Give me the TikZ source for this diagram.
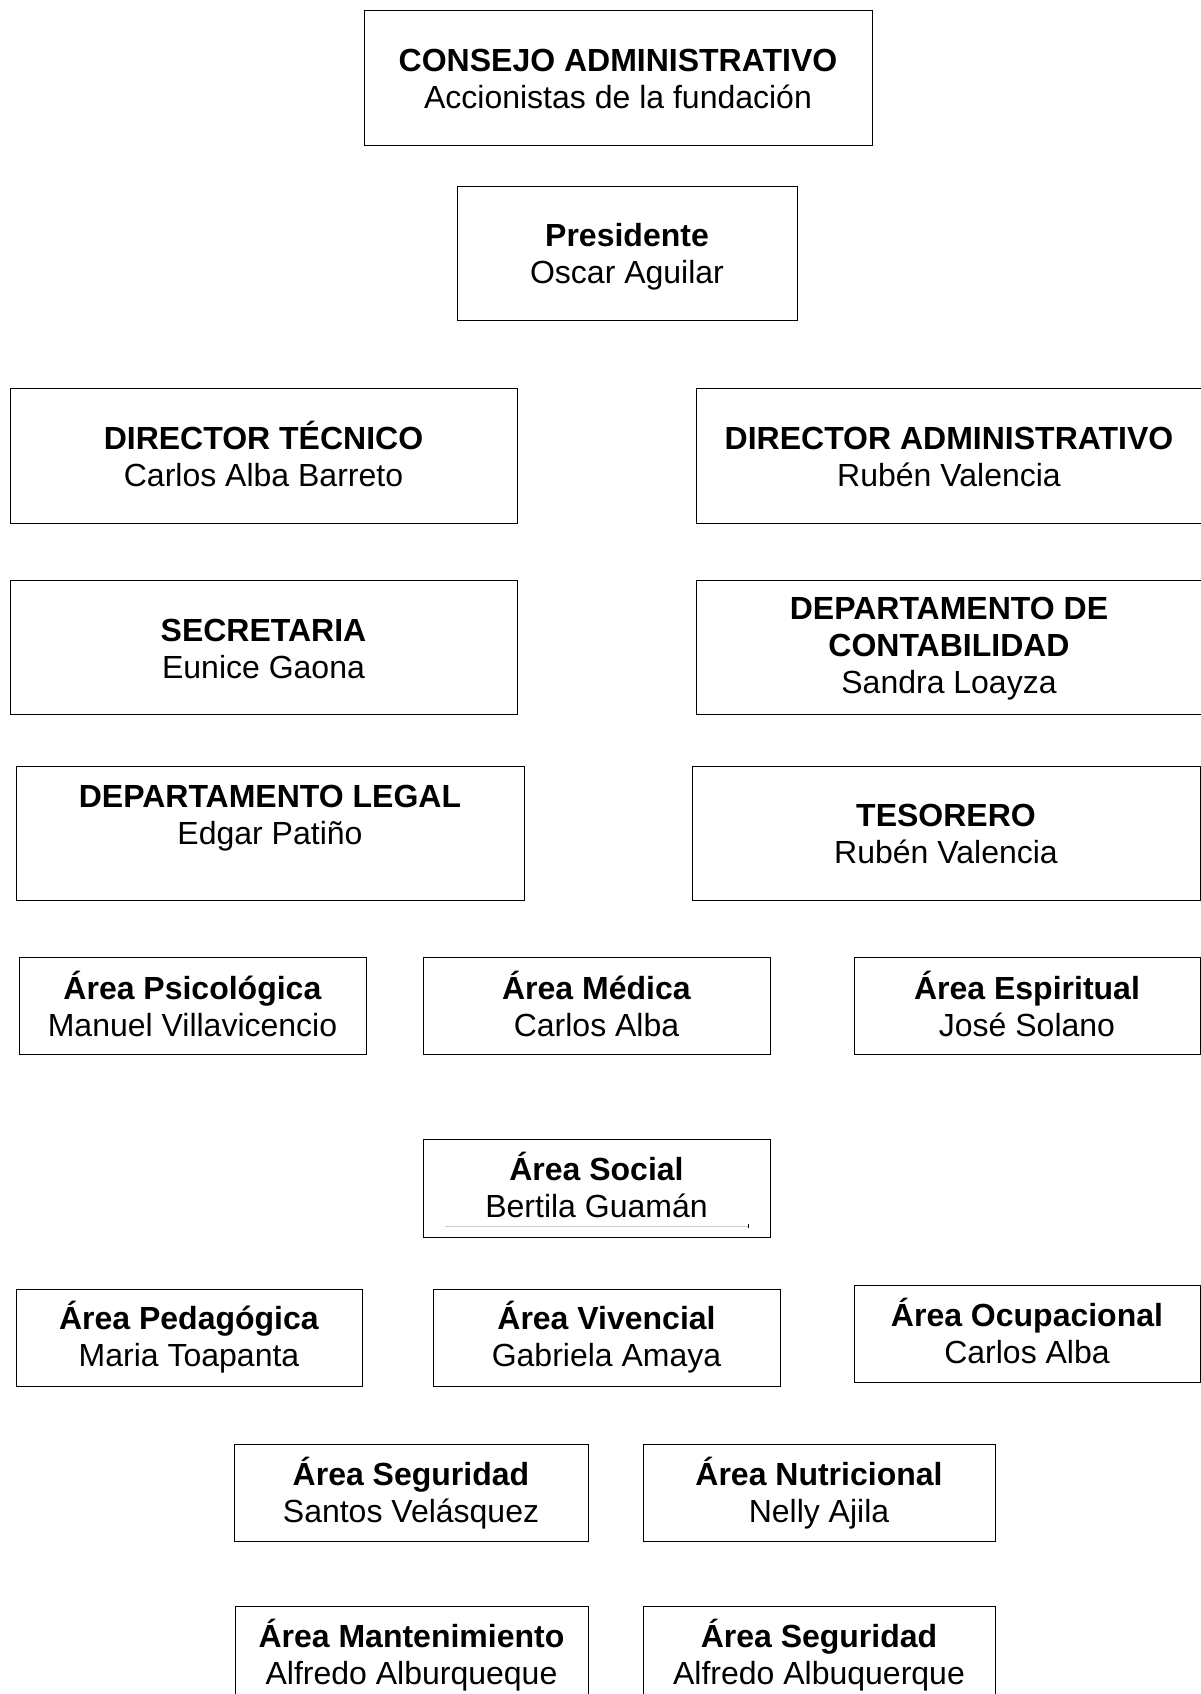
\documentclass[tikz,border=0pt]{standalone}
\usepackage{fontspec}
\setmainfont{Liberation Sans}
\usepackage{tikz}
\usepackage{xcolor}

\begin{document}
\begin{tikzpicture}[x=1pt,y=-1pt,line width=1pt,
  every node/.style={font=\fontsize{32}{37}\selectfont,align=center,inner sep=0pt}]
\useasboundingbox (0,0) rectangle (1200,1694);
% consejo y presidente
\draw (364,11) rectangle (872,145);
\node (consejo) at (618,78.5) {\textbf{CONSEJO ADMINISTRATIVO}\\Accionistas de la fundación};
\draw (457,186) rectangle (797,320);
\node (presidente) at (627,257) {\textbf{Presidente}\\Oscar Aguilar};
% directores
\draw (10,388) rectangle (517,523);
\node (dirtecnico) at (263.5,453.5) {\textbf{DIRECTOR TÉCNICO}\\Carlos Alba Barreto};
\draw (696,388) rectangle (1202,523);
\node (diradmin) at (949,456.5) {\textbf{DIRECTOR ADMINISTRATIVO}\\Rubén Valencia};
% departamentos
\draw (10,580) rectangle (517,714);
\node (secretaria) at (263.5,649) {\textbf{SECRETARIA}\\Eunice Gaona};
\draw (696,580) rectangle (1202,714);
\node (contabilidad) at (949,648.5) {\textbf{DEPARTAMENTO DE}\\\textbf{CONTABILIDAD}\\Sandra Loayza};
\draw (16,766) rectangle (524,900);
\node (legal) at (270,818) {\textbf{DEPARTAMENTO LEGAL}\\Edgar Patiño};
\draw (692,766) rectangle (1200,900);
\node (tesorero) at (946,833.5) {\textbf{TESORERO}\\Rubén Valencia};
% areas
\draw (19,957) rectangle (366,1054);
\node (psicologica) at (192.5,1003.5) {\textbf{Área Psicológica}\\Manuel Villavicencio};
\draw (423,957) rectangle (770,1054);
\node (medica) at (596.5,1003.5) {\textbf{Área Médica}\\Carlos Alba};
\draw (854,957) rectangle (1200,1054);
\node (espiritual) at (1027,1003.5) {\textbf{Área Espiritual}\\José Solano};
\draw (423,1139) rectangle (770,1237);
\node (social) at (596.5,1185) {\textbf{Área Social}\\Bertila Guamán};
\draw[gray!40] (445,1226) -- (748,1226);
\draw (748,1224) -- (748,1228);
\draw (16,1289) rectangle (362,1386);
\node (pedagogica) at (189,1337) {\textbf{Área Pedagógica}\\Maria Toapanta};
\draw (433,1289) rectangle (780,1386);
\node (vivencial) at (606.5,1337) {\textbf{Área Vivencial}\\Gabriela Amaya};
\draw (854,1285) rectangle (1200,1382);
\node (ocupacional) at (1027,1331) {\textbf{Área Ocupacional}\\Carlos Alba};
\draw (234,1444) rectangle (588,1541);
\node (seguridad) at (411,1493.5) {\textbf{Área Seguridad}\\Santos Velásquez};
\draw (643,1444) rectangle (995,1541);
\node (nutricional) at (819,1493.5) {\textbf{Área Nutricional}\\Nelly Ajila};
\draw (235,1606) rectangle (588,1720);
\node (mantenimiento) at (411.5,1655.5) {\textbf{Área Mantenimiento}\\Alfredo Alburqueque};
\draw (643,1606) rectangle (995,1720);
\node (seguridaddos) at (819,1655.5) {\textbf{Área Seguridad}\\Alfredo Albuquerque};
\end{tikzpicture}
\end{document}
